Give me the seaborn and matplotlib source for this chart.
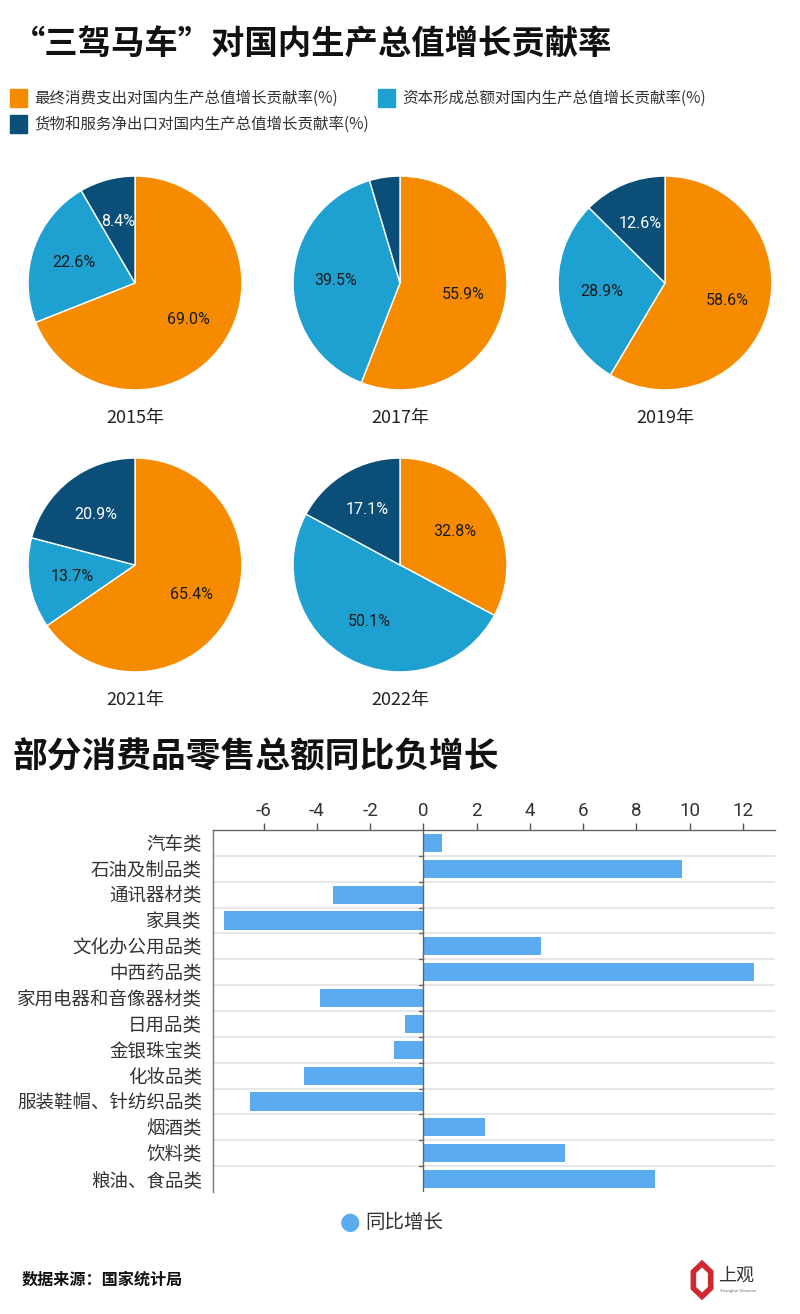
import matplotlib
matplotlib.use("Agg")
import matplotlib.pyplot as plt
import seaborn as sns
import pandas as pd
import numpy as np
from matplotlib.patches import RegularPolygon

sns.set_theme(style="white")
plt.rcParams['font.family'] = ['Noto Sans CJK SC', 'DejaVu Sans']

# ---------------- data ----------------
pie_years = ["2015年", "2017年", "2019年", "2021年", "2022年"]
consumption = [69.0, 55.9, 58.6, 65.4, 32.8]
capital = [22.6, 39.5, 28.9, 13.7, 50.1]
net_exports = [8.4, 4.6, 12.6, 20.9, 17.1]
series_names = ["最终消费支出对国内生产总值增长贡献率(%)",
                "资本形成总额对国内生产总值增长贡献率(%)",
                "货物和服务净出口对国内生产总值增长贡献率(%)"]
pie_colors = ["#F78B00", "#1EA0D0", "#0B4F79"]

categories = ["汽车类", "石油及制品类", "通讯器材类", "家具类", "文化办公用品类",
              "中西药品类", "家用电器和音像器材类", "日用品类", "金银珠宝类",
              "化妆品类", "服装鞋帽、针纺织品类", "烟酒类", "饮料类", "粮油、食品类"]
growth = [0.7, 9.7, -3.4, -7.5, 4.4, 12.4, -3.9, -0.7, -1.1, -4.5, -6.5, 2.3, 5.3, 8.7]
x_ticks = [-6, -4, -2, 0, 2, 4, 6, 8, 10, 12]
bar_color = "#5AABF0"

W, H = 800, 1314
fig = plt.figure(figsize=(W / 100, H / 100), dpi=100)


def px_axes(left, top, width, height):
    return fig.add_axes([left / W, 1 - (top + height) / H, width / W, height / H])


# ---------------- titles ----------------
fig.text(12 / W, 1 - 45 / H, "“三驾马车”对国内生产总值增长贡献率", fontsize=24,
         fontweight="bold", color="#111111", va="center", ha="left")
fig.text(12 / W, 1 - 757 / H, "部分消费品零售总额同比负增长", fontsize=25,
         fontweight="bold", color="#111111", va="center", ha="left")

# ---------------- legend for pies ----------------
leg_items = [(10, 98, 0), (378, 98, 1), (10, 124, 2)]
for x, y, i in leg_items:
    fig.patches.append(plt.Rectangle((x / W, 1 - (y + 9) / H), 17 / W, 18 / H,
                                     transform=fig.transFigure, color=pie_colors[i]))
    fig.text((x + 24) / W, 1 - y / H, series_names[i], fontsize=11.2, color="#333333",
             va="center", ha="left")

# ---------------- pies ----------------
centers = [(135, 283), (400, 283), (665, 283), (135, 565), (400, 565)]
r = 108
for k, (cx, cy) in enumerate(centers):
    ax = px_axes(cx - r, cy - r, 2 * r, 2 * r)
    vals = [consumption[k], capital[k], net_exports[k]]
    wedges, _ = ax.pie(vals, colors=pie_colors, startangle=90, counterclock=False,
                       radius=1, wedgeprops=dict(edgecolor="white", linewidth=1))
    total = sum(vals)
    ang0 = 90.0
    for j, v in enumerate(vals):
        span = v / total * 360
        mid = np.deg2rad(ang0 - span / 2)
        ang0 -= span
        if v < 5:
            continue
        d = 0.6
        tc = "white" if j == 2 else "#1a1a1a"
        ax.text(d * np.cos(mid), d * np.sin(mid), f"{v:.1f}%", ha="center", va="center",
                fontsize=11.5, color=tc, family=["Roboto", "Noto Sans CJK SC"])
    ax.set_xlim(-1.01, 1.01)
    ax.set_ylim(-1.01, 1.01)
    ax.set_aspect("equal")
    ax.axis("off")
    fig.text(cx / W, 1 - (cy + 135) / H, pie_years[k], ha="center", va="center",
             fontsize=13, color="#222222")

# ---------------- bar chart ----------------
df = pd.DataFrame({"category": categories, "growth": growth})
axb = px_axes(213, 830, 562, 362)
sns.barplot(data=df, x="growth", y="category", orient="h", color=bar_color,
            saturation=1, width=0.7, ax=axb, edgecolor="none")
axb.set_xlim(-7.9, 13.2)
axb.set_ylim(13.5, -0.5)
axb.xaxis.tick_top()
axb.set_xticks(x_ticks)
axb.set_xticklabels([str(t) for t in x_ticks], family=["Roboto", "Noto Sans CJK SC"],
                    fontsize=13.5, color="#333333")
axb.tick_params(axis="x", length=5, width=1, color="#555555", pad=2, top=True, bottom=False)
axb.tick_params(axis="y", length=0, pad=8, labelsize=13.3, labelcolor="#333333")
axb.set_xlabel("")
axb.set_ylabel("")
for b in np.arange(0.5, 13.5, 1.0):
    axb.axhline(b, color="#e3e3e3", lw=1.2, zorder=0)
axb.axvline(0, color="#666666", lw=1, zorder=3)
for b in np.arange(0.5, 13.5, 1.0):
    axb.plot([-0.15, 0], [b, b], color="#666666", lw=1, zorder=3)
for s in ["right", "bottom"]:
    axb.spines[s].set_visible(False)
axb.spines["left"].set_color("#777777")
axb.spines["top"].set_color("#666666")
axb.spines["left"].set_linewidth(1)
axb.spines["top"].set_linewidth(1)

# bar legend
fig.text(350 / W, 1 - 1222 / H, "●", color=bar_color, fontsize=17, ha="center",
         va="center", family=["DejaVu Sans"])
fig.text(365 / W, 1 - 1222 / H, "同比增长", color="#333333", fontsize=14,
         ha="left", va="center")

# ---------------- footer ----------------
fig.text(22 / W, 1 - 1280 / H, "数据来源：国家统计局", fontsize=11.6, fontweight="bold",
         color="#111111", ha="left", va="center")
fig.patches.append(RegularPolygon((702 / W, 1 - 1280 / H), numVertices=6, radius=10 / W,
                                  orientation=0, transform=fig.transFigure,
                                  facecolor="white", edgecolor="#D0282E", linewidth=4))
fig.text(718 / W, 1 - 1276 / H, "上观", fontsize=13, color="#333333", ha="left", va="center")
fig.text(720 / W, 1 - 1291 / H, "Shanghai Observer", fontsize=3, color="#666666",
         ha="left", va="center")

fig.savefig("out.png", dpi=100, facecolor="white")
